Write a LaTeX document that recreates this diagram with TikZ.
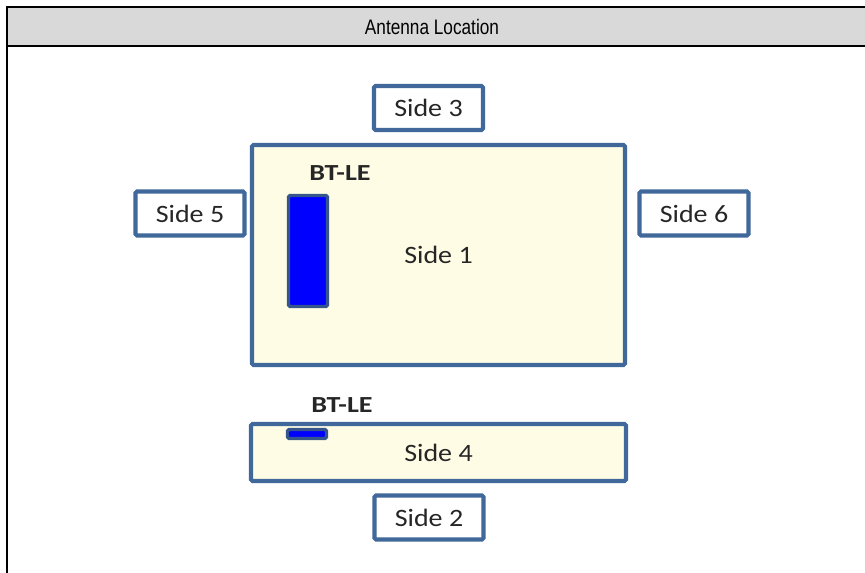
\documentclass[tikz,border=0pt]{standalone}
\usepackage{fontspec}
\setmainfont{Carlito}
\newfontfamily\headfont[FakeStretch=0.82]{Liberation Sans}
\newfontfamily\sidefont[FakeStretch=1.12]{Carlito}
\newfontfamily\btfont[FakeStretch=1.22]{Carlito}
\usetikzlibrary{positioning}

\definecolor{frameblue}{HTML}{41689A}
\definecolor{cream}{HTML}{FFFCE5}
\definecolor{headgray}{HTML}{D9D9D9}
\definecolor{barblue}{HTML}{0000FF}
\definecolor{baredge}{HTML}{34568C}
\definecolor{inkgray}{HTML}{262626}

\tikzset{
	sidebox/.style={draw=frameblue, line width=4.2pt, fill=white, rounded corners=1.5pt,
		inner sep=0pt, minimum width=109pt, minimum height=44pt, text=inkgray,
		font=\sidefont\fontsize{25}{25}\selectfont},
	facebox/.style={sidebox, fill=cream},
	antenna/.style={draw=baredge, line width=3.2pt, fill=barblue, rounded corners=1.5pt, inner sep=0pt},
	btlabel/.style={text=inkgray, font=\btfont\bfseries\fontsize{23}{23}\selectfont}
}

\begin{document}
\begin{tikzpicture}[x=1pt, y=-1pt]
			%%%%% FRAME %%%%%
			\useasboundingbox (0, 0) rectangle (865, 573);
			
			\fill[headgray] (6.7, 6.7) rectangle (865, 46);
			\node[font=\headfont\fontsize{21}{21}\selectfont] (title) at (432, 27) {Antenna Location};
			\draw[line width=2pt] (865, 6.7) -- (6.7, 6.7) -- (6.7, 573);
			\draw[line width=2pt] (6.7, 46) -- (865, 46);
			
			%%%%% FACES %%%%%
			\node[facebox, minimum width=373pt, minimum height=220pt] (side1) at (438.5, 255) {Side 1};
			\node[facebox, minimum width=375pt, minimum height=57pt] (side4) at (438.5, 452.5) {Side 4};
			
			\node[sidebox] (side3) at (428.5, 108) {Side 3};
			\node[sidebox] (side5) at (190, 213.5) {Side 5};
			\node[sidebox] (side6) at (694, 213.5) {Side 6};
			\node[sidebox] (side2) at (429, 517.5) {Side 2};
			
			%%%%% ANTENNA %%%%%
			\node[antenna, minimum width=39pt, minimum height=111pt] (bar1) at (308, 251) {};
			\node[btlabel] (bt1) at (340, 173) {BT-LE};
			
			\node[antenna, minimum width=39pt, minimum height=9pt] (bar4) at (307, 434) {};
			\node[btlabel] (bt4) at (342, 405) {BT-LE};
			
\end{tikzpicture}
\end{document}
